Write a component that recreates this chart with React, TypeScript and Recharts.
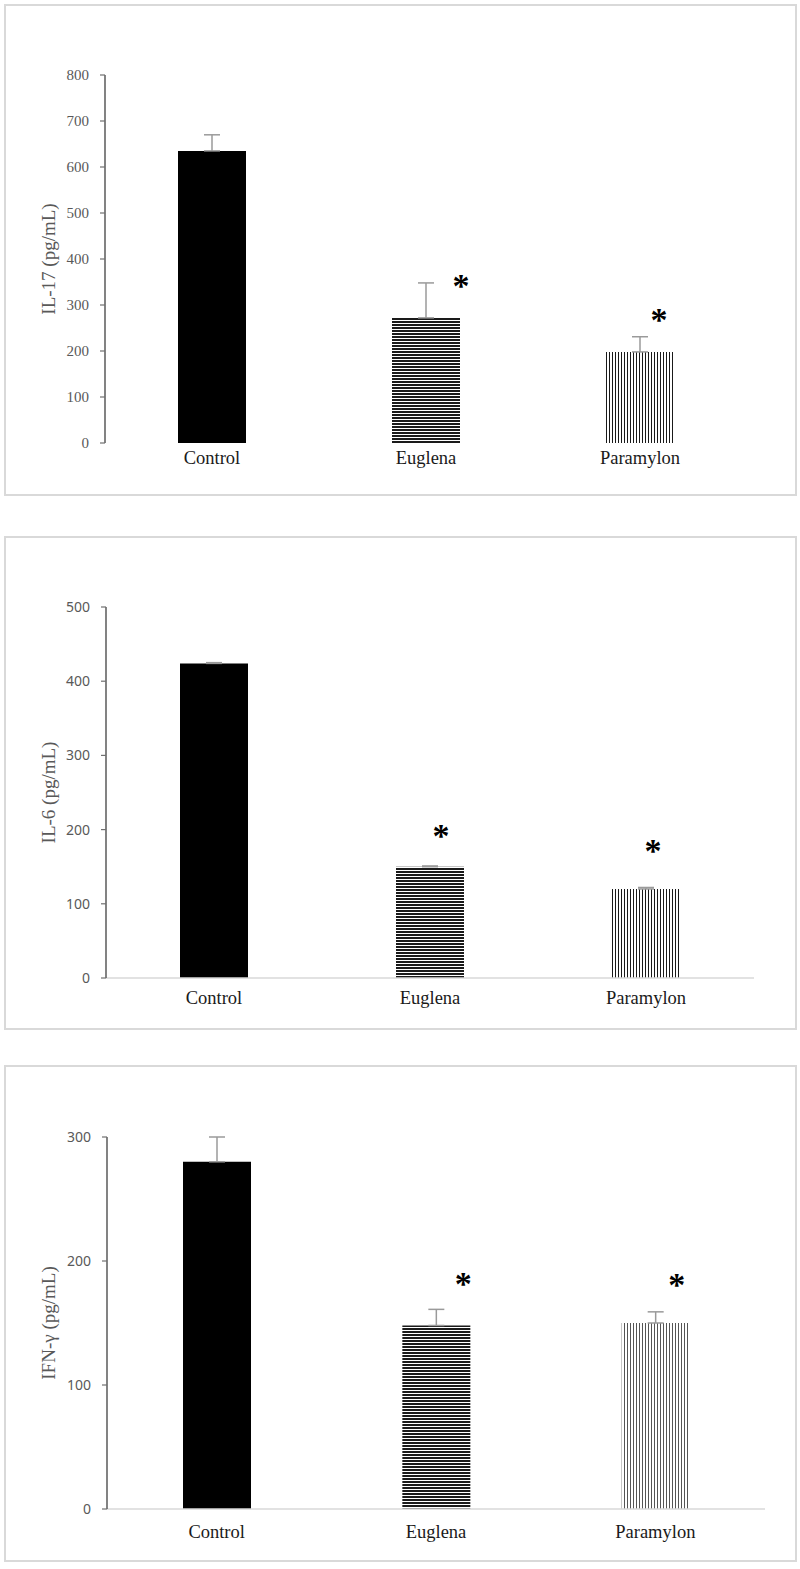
import React from 'react'
import { BarChart, Bar, XAxis, YAxis, ErrorBar, Cell, LabelList } from 'recharts'

// groups on the x axis
const categories = ['Control', 'Euglena', 'Paramylon']
const significant = [false, true, true]

// IL-17
const il17Values = [635, 272, 198]
const il17Errors = [35, 76, 33]
const il17Ticks = [0, 100, 200, 300, 400, 500, 600, 700, 800]

// IL-6
const il6Values = [424, 150, 120]
const il6Errors = [1, 1, 2]
const il6Ticks = [0, 100, 200, 300, 400, 500]

// IFN-γ
const ifngValues = [280, 148, 150]
const ifngErrors = [20, 13, 9]
const ifngTicks = [0, 100, 200, 300]

const SERIF = '"Liberation Serif", "DejaVu Serif", serif'
const SANS = '"Noto Sans", "Liberation Sans", sans-serif'

function buildRows(values: number[], errors: number[]) {
  return categories.map((name, i) => ({
    name,
    value: values[i],
    err: [0, errors[i]],
    star: significant[i],
  }))
}

interface PanelProps {
  id: string
  title: string
  values: number[]
  errors: number[]
  ticks: number[]
  top: number
  height: number
  margin: { top: number; right: number; bottom: number }
  yWidth: number
  box: { top: number; height: number }
  tickFont: string
  tickSize: number
  showXAxisLine: boolean
  labelDy: number
  stars: [number, number][]
  vStroke: string
}

function Panel(p: PanelProps) {
  const data = buildRows(p.values, p.errors)
  const fills = ['#000000', `url(#h-${p.id})`, `url(#v-${p.id})`]

  const renderStar = (props: any) => {
    const { x, y, width, index } = props
    if (!significant[index]) return null
    const [dx, dy] = p.stars[index]
    const cx = x + width / 2 + dx
    const cy = y + dy
    return (
      <text
        x={cx}
        y={cy + 19}
        textAnchor="middle"
        fontFamily={SERIF}
        fontWeight="bold"
        fontSize={34}
        fill="#000"
      >
        *
      </text>
    )
  }

  const renderXTick = (props: any) => {
    const { x, y, payload } = props
    return (
      <text x={x} y={y + p.labelDy} textAnchor="middle" fontFamily={SERIF} fontSize={18.5} fill="#1a1a1a">
        {payload.value}
      </text>
    )
  }

  const renderTitle = (props: any) => {
    const vb = props.viewBox
    const cy = vb.y + vb.height / 2
    return (
      <text
        x={48}
        y={cy}
        transform={`rotate(-90 48 ${cy})`}
        textAnchor="middle"
        dominantBaseline="central"
        fontFamily={SERIF}
        fontSize={19}
        fill="#595959"
      >
        {p.title}
      </text>
    )
  }

  return (
    <>
      <div
        style={{
          position: 'absolute',
          left: 4,
          top: p.box.top,
          width: 789,
          height: p.box.height,
          border: '2px solid #d9d9d9',
        }}
      />
      <div style={{ position: 'absolute', left: 0, top: p.top }}>
        <BarChart width={800} height={p.height} data={data} margin={{ ...p.margin, left: 0 }} barSize={68}>
          <defs>
            <pattern id={`h-${p.id}`} patternUnits="userSpaceOnUse" width={6} height={3}>
              <rect x={0} y={0} width={6} height={3} fill="#ffffff" />
              <rect x={0} y={0} width={6} height={2} fill="#1a1a1a" />
            </pattern>
            <pattern id={`v-${p.id}`} patternUnits="userSpaceOnUse" width={3} height={6}>
              <rect x={0} y={0} width={3} height={6} fill="#ffffff" />
              <rect x={0} y={0} width={1} height={6} fill={p.vStroke} />
            </pattern>
          </defs>
          <XAxis
            dataKey="name"
            axisLine={p.showXAxisLine ? { stroke: '#d9d9d9', strokeWidth: 1.5 } : false}
            tickLine={false}
            tickSize={0}
            tickMargin={0}
            tick={renderXTick}
            height={30}
          />
          <YAxis
            width={p.yWidth}
            domain={[p.ticks[0], p.ticks[p.ticks.length - 1]]}
            ticks={p.ticks}
            interval={0}
            axisLine={{ stroke: '#404040', strokeWidth: 1.3 }}
            tickLine={{ stroke: '#707070', strokeWidth: 1.2 }}
            tickSize={5}
            tickMargin={11}
            tick={{ fontFamily: p.tickFont, fontSize: p.tickSize, fill: '#595959' }}
            label={{ content: renderTitle }}
          />
          <Bar dataKey="value" isAnimationActive={false}>
            {data.map((d, i) => (
              <Cell key={d.name} fill={fills[i]} />
            ))}
            <ErrorBar dataKey="err" direction="y" width={8} stroke="#9a9a9a" strokeWidth={1.5} />
            <LabelList dataKey="star" content={renderStar} />
          </Bar>
        </BarChart>
      </div>
    </>
  )
}

export default function App() {
  return (
    <div style={{ position: 'relative', width: 800, height: 1569, background: '#fff' }}>
      <style>{'body{margin:0}'}</style>
      <Panel
        id="il17"
        title="IL-17 (pg/mL)"
        values={il17Values}
        errors={il17Errors}
        ticks={il17Ticks}
        top={0}
        height={500}
        margin={{ top: 75, right: 53, bottom: 27 }}
        yWidth={105}
        box={{ top: 4, height: 488 }}
        tickFont={SERIF}
        tickSize={15}
        showXAxisLine={false}
        labelDy={21}
        stars={[[0, 0], [35, -40], [19, -40]]}
        vStroke="#1a1a1a"
      />
      <Panel
        id="il6"
        title="IL-6 (pg/mL)"
        values={il6Values}
        errors={il6Errors}
        ticks={il6Ticks}
        top={520}
        height={500}
        margin={{ top: 87, right: 46, bottom: 12 }}
        yWidth={106}
        box={{ top: 536, height: 490 }}
        tickFont={SANS}
        tickSize={14}
        showXAxisLine={true}
        labelDy={26}
        stars={[[0, 0], [11, -39], [7, -46]]}
        vStroke="#1a1a1a"
      />
      <Panel
        id="ifng"
        title="IFN-γ (pg/mL)"
        values={ifngValues}
        errors={ifngErrors}
        ticks={ifngTicks}
        top={1040}
        height={529}
        margin={{ top: 97, right: 35, bottom: 30 }}
        yWidth={107}
        box={{ top: 1065, height: 493 }}
        tickFont={SANS}
        tickSize={14}
        showXAxisLine={true}
        labelDy={29}
        stars={[[0, 0], [27, -49], [21, -46]]}
        vStroke="#555555"
      />
    </div>
  )
}
